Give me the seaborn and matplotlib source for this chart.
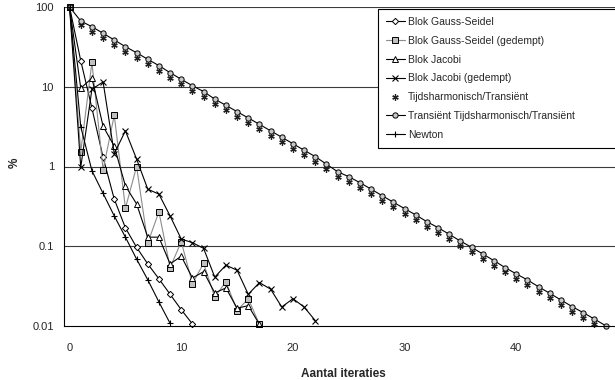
import numpy as np
import pandas as pd
import matplotlib
matplotlib.use("Agg")
import matplotlib.pyplot as plt
import seaborn as sns

# ---- data ----
labels = [
    "Blok Gauss-Seidel",
    "Blok Gauss-Seidel (gedempt)",
    "Blok Jacobi",
    "Blok Jacobi (gedempt)",
    "Tijdsharmonisch/Transiënt",
    "Transiënt Tijdsharmonisch/Transiënt",
    "Newton",
]

gauss_seidel = [100, 21.2, 5.4, 1.3, 0.39, 0.17, 0.097, 0.06, 0.039, 0.025, 0.016, 0.0106]
gauss_seidel_damped = [100, 1.53, 20.2, 0.91, 4.4, 0.30, 1.0, 0.11, 0.27, 0.054, 0.114,
                       0.034, 0.061, 0.023, 0.036, 0.0156, 0.022, 0.0105]
jacobi = [100, 9.6, 12.8, 3.2, 1.8, 0.57, 0.34, 0.13, 0.13, 0.06, 0.075, 0.04, 0.048,
          0.026, 0.03, 0.0167, 0.018, 0.0105]
jacobi_damped = [100, 0.98, 9.3, 11.5, 1.45, 2.8, 1.24, 0.52, 0.45, 0.24, 0.123, 0.111,
                 0.094, 0.041, 0.058, 0.050, 0.025, 0.035, 0.029, 0.0173, 0.022, 0.0173,
                 0.0117]
tijdsharmonisch = [100, 60, 49, 40.5, 33.4, 27.5, 23.1, 19.1, 15.9, 13.0, 10.7, 8.9, 7.5,
                   6.05, 5.06, 4.21, 3.51, 2.92, 2.42, 2.02, 1.67, 1.38, 1.15, 0.93, 0.745,
                   0.644, 0.542, 0.45, 0.372, 0.308, 0.256, 0.214, 0.176, 0.148, 0.122,
                   0.100, 0.084, 0.069, 0.057, 0.047, 0.039, 0.0327, 0.0268, 0.0222,
                   0.0183, 0.0151, 0.0127, 0.0106]
transient = [100, 66.7, 56.6, 46.8, 38.6, 31.8, 26.7, 22.1, 18.4, 15.0, 12.4, 10.3, 8.7,
             7.0, 5.85, 4.87, 4.06, 3.38, 2.8, 2.33, 1.93, 1.6, 1.33, 1.07, 0.86, 0.745,
             0.627, 0.52, 0.43, 0.356, 0.296, 0.247, 0.203, 0.171, 0.141, 0.116, 0.097,
             0.080, 0.066, 0.054, 0.045, 0.0378, 0.031, 0.0257, 0.0212, 0.0175, 0.0147,
             0.0122, 0.0101]
newton = [100, 3.16, 0.885, 0.46, 0.24, 0.13, 0.069, 0.038, 0.02, 0.0108]

series = [gauss_seidel, gauss_seidel_damped, jacobi, jacobi_damped,
          tijdsharmonisch, transient, newton]

y_ticks = [0.01, 0.1, 1, 10, 100]
y_ticklabels = ["0.01", "0.1", "1", "10", "100"]
x_ticks = [0, 10, 20, 30, 40]

# ---- styles ----
styles = [
    dict(color="black", marker="D", markersize=3.2, markerfacecolor="white",
         markeredgecolor="black", markeredgewidth=0.7, linewidth=0.8),
    dict(color="#8c8c8c", marker="s", markersize=4.0, markerfacecolor="#c0c0c0",
         markeredgecolor="black", markeredgewidth=0.7, linewidth=0.8),
    dict(color="black", marker="^", markersize=4.0, markerfacecolor="white",
         markeredgecolor="black", markeredgewidth=0.7, linewidth=0.8),
    dict(color="black", marker="x", markersize=3.8, markeredgecolor="black",
         markeredgewidth=0.8, linewidth=0.8),
    dict(color="black", marker=(6, 2, 0), markersize=4.6, markeredgecolor="#202020",
         markeredgewidth=0.9, linestyle="none"),
    dict(color="black", marker="o", markersize=3.8, markerfacecolor="#c8c8c8",
         markeredgecolor="black", markeredgewidth=0.7, linewidth=0.8),
    dict(color="black", marker="+", markersize=5.0, markeredgecolor="black",
         markeredgewidth=0.8, linewidth=0.8),
]

sns.set_style("white")
plt.rcParams["font.family"] = ["Liberation Sans", "DejaVu Sans"]

W, H = 615, 380
fig = plt.figure(figsize=(W / 100, H / 100), dpi=100)
ax = fig.add_axes([64 / W, 54 / H, (W - 64) / W, 319 / H])
ax.set_yscale("log")

for lab, vals, st in zip(labels, series, styles):
    df = pd.DataFrame({"iter": np.arange(len(vals)), "pct": vals})
    sns.lineplot(data=df, x="iter", y="pct", ax=ax, label=lab, estimator=None,
                 clip_on=False, **st)

ax.set_ylim(0.01, 100)
ax.set_xlim(-0.5, 48.84)

# gridlines
for yv in y_ticks[1:]:
    ax.axhline(yv, color="#3c3c3c", linewidth=0.8, zorder=0.5)

ax.set_yticks(y_ticks)
ax.set_yticklabels(y_ticklabels)
ax.yaxis.set_minor_locator(matplotlib.ticker.NullLocator())
ax.tick_params(axis="y", which="major", direction="out", length=3, width=0.8,
               pad=4.3, labelsize=8, color="black")

ax.set_xticks(x_ticks)
ax.set_xticklabels([str(v) for v in x_ticks])
ax.set_xticks(np.arange(-0.5, 48, 5), minor=True)
ax.tick_params(axis="x", which="major", length=0, pad=12, labelsize=8)
ax.tick_params(axis="x", which="minor", direction="out", length=3, width=0.8,
               color="black")

for s in ["top", "right"]:
    ax.spines[s].set_visible(False)
for s in ["left", "bottom"]:
    ax.spines[s].set_color("black")
    ax.spines[s].set_linewidth(0.8)

ax.set_xlabel("Aantal iteraties", fontsize=8.5, fontweight="bold")
ax.xaxis.set_label_coords((343.7 - 64) / (W - 64), -(373.7 - 326) / 319)
ax.xaxis.label.set_va("center")
ax.set_ylabel("%", fontsize=8.5, fontweight="bold")
ax.yaxis.set_label_coords((15 - 64) / (W - 64), (326 - 163) / 319)
ax.yaxis.label.set_va("center")

# legend box runs past the right edge of the picture (cropped as in the reference)
leg = ax.legend(loc="upper left", bbox_to_anchor=(378 / W, 1 - 9 / H, (650 - 378) / W, 0),
                bbox_transform=fig.transFigure, mode="expand", fontsize=7.5,
                frameon=True, fancybox=False, framealpha=1, edgecolor="black",
                borderpad=0.75, labelspacing=0.85, handlelength=1.8,
                handletextpad=0.35, borderaxespad=0)
leg.get_frame().set_linewidth(0.8)

fig.savefig("out.png", dpi=100)
